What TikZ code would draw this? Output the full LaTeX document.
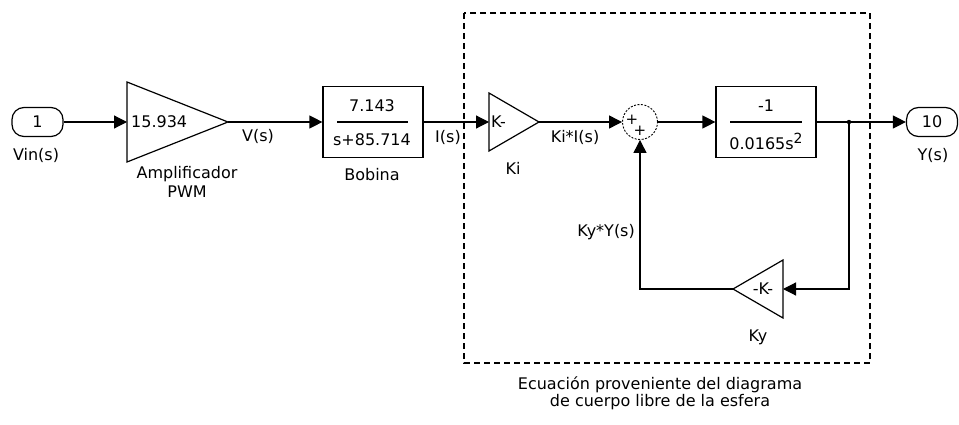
\documentclass[tikz,border=0pt]{standalone}
\usepackage{fontspec}
\setmainfont{DejaVu Sans}
\usetikzlibrary{arrows.meta}
\begin{document}
\begin{tikzpicture}[x=1pt,y=-1pt,
  txt/.style={font=\fontsize{16}{18}\selectfont, inner sep=0pt},
  wire/.style={line width=1.2pt, -{Triangle[length=13pt,width=13pt]}},
  plain/.style={line width=1.2pt},
  blk/.style={draw, line width=1.2pt, inner sep=0pt, minimum width=100pt, minimum height=71pt},
  port/.style={draw, line width=1.2pt, rounded corners=12pt, minimum width=51pt, minimum height=29pt, inner sep=0pt, font=\fontsize{16}{18}\selectfont},
  sumblk/.style={draw, circle, line width=0.9pt, dash pattern=on 2pt off 1.5pt, minimum size=35pt, inner sep=0pt},
  frame/.style={line width=1.2pt, dash pattern=on 6pt off 4pt},
  plus/.style={inner sep=0pt, font=\fontsize{15}{15}\selectfont},
]
\useasboundingbox (0,0) rectangle (959,425);

% ports
\node[port] (in1) at (37.5,122) {1};
\node[txt] (vin) at (36,155) {Vin(s)};
\node[port] (out1) at (932,122) {10};
\node[txt] (ys) at (933,155) {Y(s)};

% gain 1 (PWM amplifier)
\coordinate (g1in) at (127,122);
\coordinate (g1out) at (228,122);
\draw[plain, line join=miter] (127,82) -- (g1out) -- (127,162) -- cycle;
\node[txt, anchor=west] (g1txt) at (131,122) {15.934};
\node[txt, align=center, font=\fontsize{16}{19}\selectfont] (g1lbl) at (187,182) {Amplificador\\PWM};
\node[txt] (vs) at (258,136) {V(s)};

% Bobina
\node[blk] (bob) at (373,122) {};
\draw[plain] (337,122) -- (408,122);
\node[txt] (bobnum) at (372,106) {7.143};
\node[txt] (bobden) at (372,140) {s+85.714};
\node[txt] (boblbl) at (372,175) {Bobina};
\node[txt] (is) at (448,137) {I(s)};

% Ki gain
\coordinate (kiin) at (489,122);
\coordinate (kiout) at (539,122);
\draw[plain, line join=miter] (489,93) -- (kiout) -- (489,151) -- cycle;
\node[txt, anchor=west] (kitxt) at (491,122) {K-};
\node[txt] (kilbl) at (513,168) {Ki};
\node[txt] (kis) at (575,137) {Ki*I(s)};

% sum
\node[sumblk] (sum) at (640,122) {};
\node[plus] (p1) at (632,120) {+};
\node[plus] (p2) at (640,131) {+};

% plant
\node[blk] (plant) at (766,122) {};
\draw[plain] (730,122) -- (802,122);
\node[txt] (plnum) at (766,106) {-1};
\node[txt] (plden) at (766,141) {0.0165s\raisebox{6pt}{\fontsize{14}{14}\selectfont 2}};

% Ky gain
\coordinate (kyin) at (783,289);
\coordinate (kyout) at (733,289);
\draw[plain, line join=miter] (783,260) -- (kyout) -- (783,318) -- cycle;
\node[txt] (kytxt) at (763,289) {-K-};
\node[txt] (kylbl) at (758,337) {Ky};
\node[txt, anchor=east] (kyys) at (635,232) {Ky*Y(s)};

% connectors
\draw[wire] (in1.east) -- (g1in);
\draw[wire] (g1out) -- (bob.west);
\draw[wire] (bob.east) -- (kiin);
\draw[wire] (kiout) -- (sum.west);
\draw[wire] (sum.east) -- (plant.west);
\coordinate (br) at (849,122);
\coordinate (brd) at (849,289);
\draw[wire] (plant.east) -- (out1.west);
\fill (br) circle (2.2pt);
\draw[wire] (br) -- (brd) -- (kyin);
\draw[wire] (kyout) -| (sum.south);

% dashed frame and caption
\draw[frame] (464,13) rectangle (870,363);
\node[txt, align=center, font=\fontsize{16}{17}\selectfont] (cap) at (660,393) {Ecuación proveniente del diagrama\\de cuerpo libre de la esfera};
\end{tikzpicture}
\end{document}
